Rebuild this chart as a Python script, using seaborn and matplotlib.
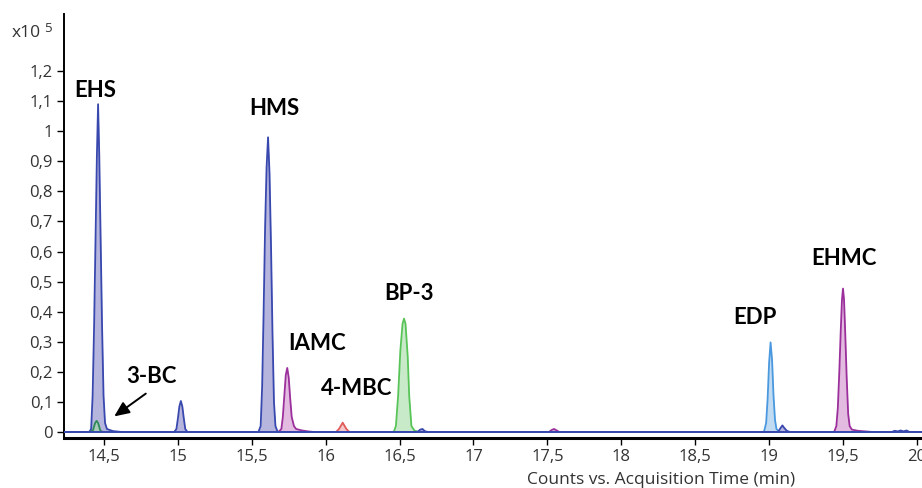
import matplotlib
matplotlib.use("Agg")
import matplotlib.pyplot as plt
import seaborn as sns
import pandas as pd

# ---------------- data (intensity in x10^5 counts) -------------
# Blue trace: EHS, unknown 15.02, HMS + small bumps; also carries the baseline
blue_t = [14.23, 14.40, 14.413, 14.423, 14.433, 14.443, 14.452, 14.46, 14.468, 14.477, 14.487,
          14.497, 14.507, 14.52, 14.56, 14.62,
          14.975, 14.99, 15.00, 15.01, 15.02, 15.03, 15.04, 15.05, 15.065,
          15.545, 15.56, 15.57, 15.58, 15.59, 15.60, 15.61, 15.62, 15.63, 15.64, 15.65, 15.66, 15.675,
          16.62, 16.64, 16.655, 16.67, 16.69, 19.06, 19.08, 19.09, 19.10, 19.12, 19.14,
          19.83, 19.85, 19.87, 19.89, 19.91, 19.93, 19.95, 20.04]
blue_y = [0, 0, 0.01, 0.12, 0.35, 0.65, 0.92, 1.09, 0.92, 0.65, 0.35,
          0.12, 0.03, 0.01, 0.003, 0,
          0, 0.01, 0.045, 0.085, 0.103, 0.085, 0.045, 0.01, 0,
          0, 0.02, 0.15, 0.40, 0.68, 0.88, 0.98, 0.86, 0.62, 0.33, 0.10, 0.02, 0,
          0, 0.008, 0.01, 0.003, 0, 0, 0.015, 0.022, 0.015, 0.004, 0,
          0, 0.004, 0.002, 0.005, 0.002, 0.005, 0, 0]
# 3-BC (dark green)
bc3_t = [14.40, 14.425, 14.44, 14.45, 14.46, 14.475, 14.49]
bc3_y = [0, 0.005, 0.03, 0.037, 0.03, 0.005, 0]
# IAMC, small bump, EHMC (purple)
purple_t = [15.68, 15.70, 15.71, 15.72, 15.73, 15.74, 15.75, 15.76, 15.77, 15.785, 15.80, 15.84,
            15.88, 15.92,
            17.51, 17.53, 17.545, 17.56, 17.58,
            19.44, 19.455, 19.465, 19.475, 19.485, 19.493, 19.50, 19.507, 19.515, 19.525, 19.535,
            19.545, 19.56, 19.60, 19.65, 19.70]
purple_y = [0, 0.01, 0.05, 0.12, 0.19, 0.213, 0.18, 0.11, 0.05, 0.02, 0.01, 0.005,
            0.002, 0,
            0, 0.007, 0.01, 0.006, 0,
            0, 0.02, 0.08, 0.20, 0.34, 0.44, 0.477, 0.44, 0.33, 0.18, 0.06,
            0.02, 0.008, 0.004, 0.002, 0]
# 4-MBC (red)
mbc_t = [16.07, 16.09, 16.115, 16.14, 16.16]
mbc_y = [0, 0.01, 0.031, 0.01, 0]
# BP-3 (light green)
bp3_t = [16.46, 16.475, 16.49, 16.505, 16.52, 16.53, 16.54, 16.555, 16.565, 16.58, 16.60, 16.63]
bp3_y = [0, 0.02, 0.12, 0.27, 0.36, 0.377, 0.36, 0.25, 0.12, 0.02, 0.005, 0]
# EDP (light blue)
edp_t = [18.965, 18.98, 18.99, 19.00, 19.01, 19.02, 19.03, 19.04, 19.05, 19.07]
edp_y = [0, 0.03, 0.11, 0.23, 0.298, 0.24, 0.12, 0.04, 0.01, 0]

x_ticks = [14.5, 15, 15.5, 16, 16.5, 17, 17.5, 18, 18.5, 19, 19.5, 20]
x_labels = ["14,5", "15", "15,5", "16", "16,5", "17", "17,5", "18", "18,5", "19", "19,5", "20"]
y_ticks = [0, 0.1, 0.2, 0.3, 0.4, 0.5, 0.6, 0.7, 0.8, 0.9, 1.0, 1.1, 1.2]
y_labels = ["0", "0,1", "0,2", "0,3", "0,4", "0,5", "0,6", "0,7", "0,8", "0,9", "1", "1,1", "1,2"]

peak_names = ["EHS", "HMS", "IAMC", "4-MBC", "BP-3", "EDP", "EHMC", "3-BC"]
label_x = [14.439, 15.650, 15.941, 16.212, 16.564, 18.905, 19.507, 14.818]
label_y = [1.134, 1.077, 0.293, 0.146, 0.459, 0.382, 0.578, 0.186]

# ---------------- plotting ----------------
sns.set_style("ticks")
plt.rcParams["font.family"] = ["Open Sans", "DejaVu Sans"]

fig = plt.figure(figsize=(9.22, 4.88), dpi=100)
ax = fig.add_axes([64 / 922, 1 - 438 / 488, 1 - 64 / 922, (438 - 14) / 488])

traces = [
    (edp_t, edp_y, "#4A98DE", "#BBD7F2"),
    (bp3_t, bp3_y, "#58C458", "#C4E8C4"),
    (mbc_t, mbc_y, "#E05A5A", "#F3C2C2"),
    (purple_t, purple_y, "#9B2F9B", "#E0B3DD"),
    (blue_t, blue_y, "#3848AE", "#ADADDA"),
    (bc3_t, bc3_y, "#2E8A57", "#A8CFB8"),
]
for t, y, lc, fc in traces:
    ax.fill_between(t, y, 0, color=fc, lw=0, zorder=1, alpha=0.9)
for t, y, lc, fc in traces:
    df = pd.DataFrame({"t": t, "y": y})
    sns.lineplot(data=df, x="t", y="y", ax=ax, color=lc, lw=1.3, estimator=None,
                 sort=False, zorder=3)
# blue baseline on top
sns.lineplot(x=[blue_t[0], blue_t[-1]], y=[0, 0], ax=ax, color="#3848AE", lw=1.4,
             estimator=None, zorder=4)

ax.set_xlim(14.2294, 20.0345)
ax.set_ylim(-0.02, 1.39)
ax.set_xticks(x_ticks)
ax.set_xticklabels(x_labels)
ax.set_yticks(y_ticks)
ax.set_yticklabels(y_labels)
ax.set_xlabel("")
ax.set_ylabel("")
ax.tick_params(axis="both", direction="out", length=5, width=1, color="black",
               labelcolor="#333333", labelsize=12, pad=3)
for s in ["top", "right"]:
    ax.spines[s].set_visible(False)
ax.spines["left"].set_linewidth(1.4)
ax.spines["left"].set_color("black")
ax.spines["bottom"].set_linewidth(2.2)
ax.spines["bottom"].set_color("black")

for name, lx, ly in zip(peak_names, label_x, label_y):
    ax.text(lx, ly, name, ha="center", va="center", fontsize=16, fontweight="bold",
            family=["Lato", "DejaVu Sans"], color="black", zorder=6)

ax.annotate("", xy=(14.554, 0.0465), xytext=(14.798, 0.133),
            arrowprops=dict(arrowstyle="-|>,head_length=0.9,head_width=0.4",
                            color="black", lw=1.4), zorder=6)

fig.text(661 / 922, 1 - 480 / 488, "Counts vs. Acquisition Time (min)", ha="center",
         va="center", fontsize=12.5, color="#333333")
fig.text(12 / 922, 1 - 33 / 488, "x10", ha="left", va="center", fontsize=12.5, color="#333333")
fig.text(44 / 922, 1 - 28 / 488, "5", ha="left", va="center", fontsize=9.5, color="#333333")

fig.savefig("out.png", dpi=100)
